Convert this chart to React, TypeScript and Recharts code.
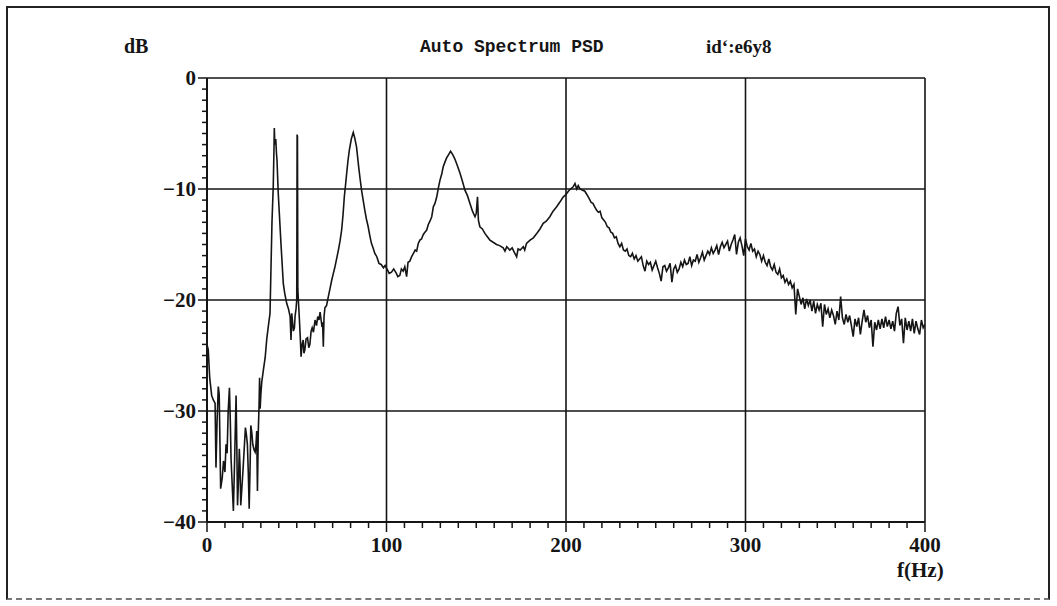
import React from "react";
import { LineChart, Line, XAxis, YAxis, ReferenceLine } from "recharts";

// Auto spectrum PSD readings: [frequency Hz, level dB]
const spectrum: [number, number][] = [
  [0, -24.0], [0.7, -24.5], [1.5, -27.0], [2.6, -28.6], [3.5, -29.0], [4.5, -29.3], [5.0, -35.1], [5.6, -31.0],
  [6.3, -27.8], [6.8, -28.5], [7.6, -37.0], [8.5, -36.0], [9.2, -34.5], [10.0, -35.5], [10.6, -33.0], [11.2, -33.8],
  [11.8, -30.0], [12.5, -27.9], [13.0, -31.0], [13.4, -34.3], [14.0, -36.5], [14.7, -39.0], [15.3, -35.0], [16.2, -28.6],
  [16.6, -33.0], [17.0, -38.5], [17.6, -36.0], [18.0, -33.4], [18.4, -35.0], [18.8, -38.5], [19.4, -37.0], [20.0, -35.5],
  [20.7, -33.5], [21.4, -31.5], [22.0, -32.2], [22.5, -33.0], [23.0, -35.5], [23.5, -38.8], [24.0, -35.0], [24.4, -31.3],
  [25.0, -32.0], [25.5, -33.0], [26.2, -33.5], [26.8, -33.7], [27.3, -33.0], [27.7, -31.8], [28.1, -37.2], [28.6, -31.7],
  [29.0, -29.5], [29.3, -27.0], [29.6, -29.8], [30.0, -28.5], [30.5, -27.4], [31.5, -26.2], [32.4, -25.2], [33.3, -23.5],
  [34.3, -22.2], [35.1, -21.2], [35.6, -17.5], [36.2, -13.0], [36.9, -9.8], [37.3, -6.5], [37.5, -4.5], [37.8, -6.0],
  [38.3, -5.5], [38.7, -6.8], [39.0, -7.4], [39.7, -10.4], [40.4, -12.5], [41.2, -14.9], [42.5, -18.5], [43.3, -19.4],
  [44.4, -20.3], [45.4, -20.8], [46.3, -21.5], [46.8, -23.6], [47.2, -21.2], [47.5, -21.7], [48.1, -22.8], [48.7, -22.5],
  [49.1, -21.4], [49.6, -20.8], [50.0, -20.0], [50.2, -5.1], [50.4, -5.3], [50.6, -19.0], [50.9, -20.0], [51.5, -21.8],
  [52.0, -23.5], [52.4, -25.1], [53.0, -24.0], [53.6, -23.6], [54.0, -24.8], [54.5, -24.5], [55.2, -23.5], [56.0, -23.4],
  [56.7, -24.3], [57.3, -24.0], [58.0, -22.8], [58.6, -22.5], [59.3, -22.9], [60.2, -21.8], [61.0, -22.3], [61.7, -21.5],
  [62.4, -21.8], [63.0, -21.1], [63.9, -22.2], [64.4, -22.0], [64.8, -24.2], [65.2, -21.5], [65.7, -20.7], [66.6, -20.5],
  [67.6, -19.7], [68.5, -19.0], [69.5, -18.2], [70.4, -17.6], [71.3, -17.0], [72.2, -16.3], [73.2, -15.5], [74.1, -14.7],
  [75.0, -13.7], [75.8, -12.3], [76.5, -10.7], [77.2, -9.6], [77.8, -8.6], [78.5, -7.5], [79.3, -6.5], [80.4, -5.5],
  [81.5, -4.9], [82.3, -5.4], [83.3, -6.2], [84.5, -8.0], [85.3, -9.1], [86.1, -10.1], [87.0, -11.0], [87.9, -11.9],
  [88.8, -12.7], [89.8, -13.4], [90.7, -14.2], [91.6, -14.9], [92.5, -15.3], [93.5, -15.8], [94.6, -16.1], [95.8, -16.7],
  [97.0, -16.8], [98.3, -17.1], [99.2, -16.9], [100.6, -17.3], [101.5, -17.6], [102.8, -17.5], [104.0, -17.2], [105.5, -17.6],
  [106.3, -17.9], [107.4, -17.8], [108.3, -17.2], [109.3, -17.4], [110.2, -17.0], [111.2, -17.9], [112.0, -16.6], [113.0, -16.5],
  [114.0, -16.1], [115.0, -15.8], [116.0, -15.5], [116.8, -15.6], [117.7, -14.9], [118.6, -14.6], [119.5, -14.5], [120.5, -14.1],
  [121.4, -13.9], [122.4, -13.7], [123.3, -13.2], [124.2, -12.9], [125.2, -12.5], [126.1, -11.6], [127.0, -11.3], [128.0, -10.7],
  [128.9, -9.9], [129.8, -9.2], [130.7, -8.7], [131.6, -8.0], [132.5, -7.6], [133.5, -7.2], [134.6, -6.9], [135.7, -6.6],
  [136.9, -6.9], [138.1, -7.3], [139.5, -7.9], [141.0, -8.6], [142.3, -9.3], [143.7, -10.1], [145.1, -10.6], [146.5, -11.3],
  [147.9, -12.0], [149.3, -12.5], [150.0, -12.2], [150.7, -10.7], [151.2, -12.8], [152.0, -13.4], [153.4, -13.6], [154.8, -14.0],
  [156.2, -14.3], [157.6, -14.6], [159.4, -14.8], [161.3, -15.0], [163.0, -15.1], [165.0, -15.3], [166.0, -15.6], [167.0, -15.2],
  [168.7, -15.5], [170.0, -15.3], [171.2, -15.7], [172.5, -16.1], [173.3, -15.4], [174.5, -15.5], [176.2, -15.2], [177.0, -15.5],
  [178.0, -14.9], [180.0, -14.6], [181.8, -14.4], [183.7, -14.0], [185.5, -13.6], [187.3, -13.1], [189.0, -12.9], [191.0, -12.5],
  [192.8, -12.0], [194.8, -11.6], [196.5, -11.2], [198.5, -10.7], [200.0, -10.5], [201.3, -10.2], [202.5, -10.0], [204.0, -9.8],
  [205.0, -9.5], [206.0, -10.0], [206.8, -9.7], [207.8, -10.0], [209.0, -10.1], [210.5, -10.2], [212.0, -10.6],
  [213, -10.9], [214, -11.2], [215, -11.3], [216, -11.6], [217, -11.9], [218, -12.1], [219, -12.0], [220, -12.6],
  [221, -12.8], [222, -13.0], [223, -13.4], [224, -13.5], [225, -13.9], [226, -14.0], [227, -14.4], [228, -14.3],
  [229, -14.9], [230, -15.2], [231, -14.9], [232, -15.5], [233, -15.6], [234, -15.4], [235, -16.0], [236, -16.1],
  [237, -15.8], [238, -16.3], [239, -16.0], [240, -16.5], [241, -16.3], [242, -16.1], [243, -16.9], [244, -17.4],
  [245, -16.5], [246, -16.8], [247, -16.6], [248, -17.3], [249, -16.9], [250, -16.5], [251, -17.1], [252, -17.6],
  [253, -18.3], [254, -17.0], [255, -16.9], [256, -17.4], [257, -17.1], [258, -16.7], [259, -18.4], [260, -17.2],
  [261, -16.9], [262, -17.5], [263, -17.2], [264, -16.6], [265, -17.0], [266, -16.4], [267, -16.8], [268, -16.7],
  [269, -16.1], [270, -16.9], [271, -16.4], [272, -16.5], [273, -15.9], [274, -16.6], [275, -16.2], [276, -15.7],
  [277, -16.4], [278, -16.0], [279, -15.6], [280, -15.9], [281, -15.3], [282, -15.8], [283, -15.5], [284, -15.1],
  [285, -15.9], [286, -15.2], [287, -14.8], [288, -15.3], [289, -15.0], [290, -14.7], [291, -15.6], [292, -15.0],
  [293, -14.6], [294, -14.1], [295, -15.9], [296, -14.8], [297, -14.4], [298, -15.1], [299, -16.0], [300, -14.5],
  [301, -15.2], [302, -15.5], [303, -14.9], [304, -15.6], [305, -15.4], [306, -16.1], [307, -15.6], [308, -15.9],
  [309, -16.5], [310, -16.0], [311, -16.6], [312, -16.9], [313, -16.3], [314, -17.0], [315, -17.3], [316, -16.8],
  [317, -17.5], [318, -17.7], [319, -17.2], [320, -18.0], [321, -17.8], [322, -18.4], [323, -18.1], [324, -18.6],
  [325, -18.3], [326, -18.9], [327, -18.6], [328, -21.3], [329, -19.0], [330, -19.7], [331, -20.4], [332, -19.8],
  [333, -20.8], [334, -19.9], [335, -20.5], [336, -20.0], [337, -21.0], [338, -20.1], [339, -21.2], [340, -20.4],
  [341, -20.9], [342, -20.3], [343, -22.4], [344, -20.4], [345, -21.3], [346, -20.8], [347, -21.6], [348, -20.9],
  [349, -21.4], [350, -22.2], [351, -21.0], [352, -21.8], [353, -19.7], [354, -21.6], [355, -22.2], [356, -21.3],
  [357, -22.0], [358, -21.4], [359, -22.3], [360, -23.3], [361, -21.7], [362, -22.4], [363, -21.6], [364, -23.1],
  [365, -21.9], [366, -20.9], [367, -22.0], [368, -21.4], [369, -22.5], [370, -21.8], [371, -24.2], [372, -22.0],
  [373, -22.7], [374, -21.8], [375, -22.6], [376, -21.7], [377, -22.5], [378, -21.5], [379, -22.4], [380, -21.8],
  [381, -22.6], [382, -21.9], [383, -22.8], [384, -21.2], [385, -20.6], [386, -22.3], [387, -21.7], [388, -23.9],
  [389, -21.6], [390, -22.7], [391, -21.9], [392, -22.8], [393, -21.7], [394, -23.0], [395, -21.9], [396, -22.6],
  [397, -23.1], [398, -21.8], [399, -22.5], [400, -22.2],
];

const xTicks = [0, 10, 20, 30, 40, 50, 60, 70, 80, 90, 100, 110, 120, 130, 140, 150, 160, 170, 180, 190, 200,
  210, 220, 230, 240, 250, 260, 270, 280, 290, 300, 310, 320, 330, 340, 350, 360, 370, 380, 390, 400];
const yTicks = [-40, -39, -38, -37, -36, -35, -34, -33, -32, -31, -30, -29, -28, -27, -26, -25, -24, -23, -22, -21, -20,
  -19, -18, -17, -16, -15, -14, -13, -12, -11, -10, -9, -8, -7, -6, -5, -4, -3, -2, -1, 0];
const xGrid = [100, 200, 300, 400];
const yGrid = [-10, -20, -30, 0];

const data = spectrum.map(([f, db]) => ({ f, db }));

const INK = "#151515";
const labelFont = "'Liberation Serif', 'DejaVu Serif', serif";

const XTick = (props: any) => {
  const { x, y, payload } = props;
  const v = payload.value as number;
  const major = v % 100 === 0;
  return (
    <g>
      <line x1={x} x2={x} y1={y} y2={y + (major ? 10 : 6)} stroke={INK} strokeWidth={1.5} />
      {major && (
        <text x={x} y={y + 30} textAnchor="middle" fontFamily={labelFont} fontWeight="bold" fontSize={21} fill={INK}>
          {v}
        </text>
      )}
    </g>
  );
};

const YTick = (props: any) => {
  const { x, y, payload } = props;
  const v = payload.value as number;
  const major = v % 10 === 0;
  return (
    <g>
      <line x1={x - (major ? 9 : 5)} x2={x} y1={y} y2={y} stroke={INK} strokeWidth={1.5} />
      {major && (
        <text x={x - 11} y={y} dy="0.35em" textAnchor="end" fontFamily={labelFont} fontWeight="bold" fontSize={21} fill={INK}>
          {v < 0 ? "\u2212" + Math.abs(v) : String(v)}
        </text>
      )}
    </g>
  );
};

const textBase: React.CSSProperties = {
  position: "absolute",
  fontWeight: "bold",
  color: INK,
  whiteSpace: "nowrap",
  lineHeight: 1,
};

export default function App() {
  return (
    <div style={{ position: "fixed", left: 0, top: 0, width: 1057, height: 606, background: "#fff", overflow: "hidden" }}>
      <div
        style={{
          position: "absolute",
          left: 6,
          top: 6,
          width: 1044,
          height: 594,
          borderTop: "2px solid #222",
          borderLeft: "2px solid #222",
          borderRight: "2px solid #222",
          borderBottom: "2px dashed #777",
          boxSizing: "border-box",
        }}
      />
      <div style={{ position: "absolute", left: 0, top: 0 }}>
        <LineChart width={1057} height={606} data={data} margin={{ top: 78, right: 132, bottom: 44, left: 147 }}>
          <XAxis
            dataKey="f"
            type="number"
            domain={[0, 400]}
            ticks={xTicks}
            interval={0}
            allowDataOverflow
            height={40}
            tickSize={0}
            tickMargin={0}
            tickLine={false}
            axisLine={{ stroke: INK, strokeWidth: 2 }}
            tick={<XTick />}
          />
          <YAxis
            type="number"
            domain={[-40, 0]}
            ticks={yTicks}
            interval={0}
            allowDataOverflow
            width={60}
            tickSize={0}
            tickMargin={0}
            tickLine={false}
            axisLine={{ stroke: INK, strokeWidth: 2 }}
            tick={<YTick />}
          />
          {xGrid.map((v) => (
            <ReferenceLine key={"x" + v} x={v} stroke={INK} strokeWidth={1.6} ifOverflow="extendDomain" />
          ))}
          {yGrid.map((v) => (
            <ReferenceLine key={"y" + v} y={v} stroke={INK} strokeWidth={1.6} ifOverflow="extendDomain" />
          ))}
          <Line
            dataKey="db"
            type="linear"
            stroke={INK}
            strokeWidth={1.6}
            dot={false}
            isAnimationActive={false}
          />
        </LineChart>
      </div>
      <div style={{ ...textBase, left: 124, top: 36, fontFamily: labelFont, fontSize: 20 }}>dB</div>
      <div style={{ ...textBase, left: 420, top: 38, fontFamily: "'Liberation Mono', 'DejaVu Sans Mono', monospace", fontSize: 18 }}>
        Auto Spectrum PSD
      </div>
      <div style={{ ...textBase, left: 706, top: 37, fontFamily: labelFont, fontSize: 19 }}>id‘:e6y8</div>
      <div style={{ ...textBase, left: 897, top: 560, fontFamily: labelFont, fontSize: 21 }}>f(Hz)</div>
    </div>
  );
}
